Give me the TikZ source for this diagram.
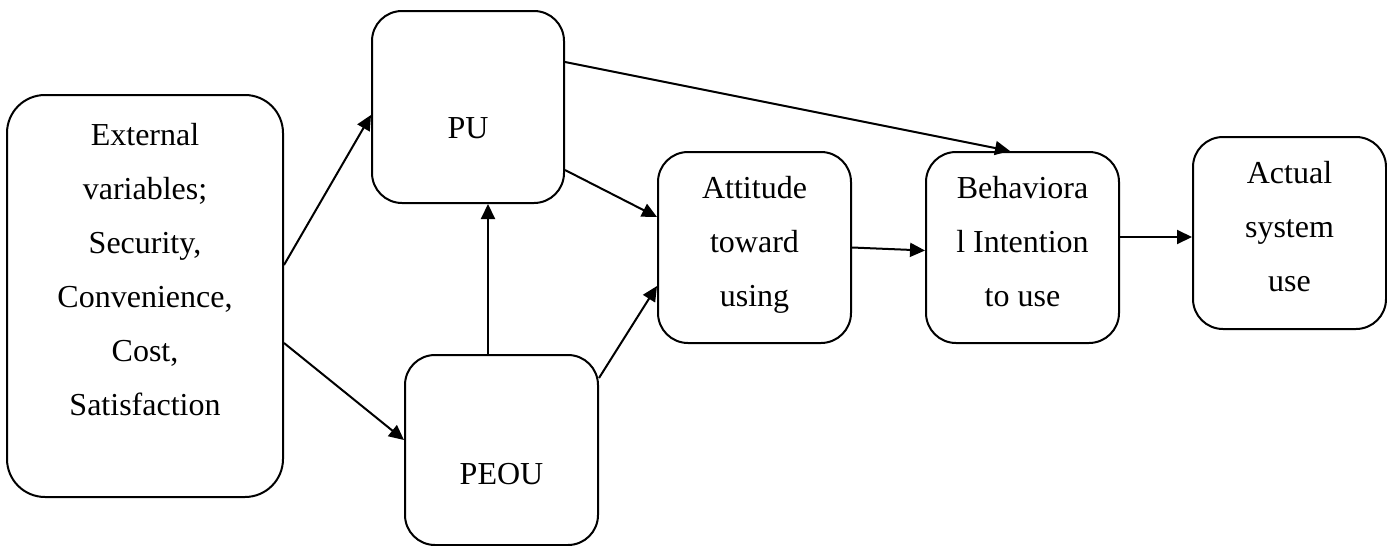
\documentclass[tikz,border=0pt]{standalone}
\usepackage{fontspec}
\setmainfont{Liberation Serif}
\usetikzlibrary{arrows.meta}

\begin{document}
\begin{tikzpicture}[
  x=1pt, y=-1pt,
  box/.style={draw, line width=2pt, rounded corners=30pt, inner sep=0pt, minimum width=193pt, minimum height=191pt},
  txt/.style={align=center, inner sep=0pt, font=\fontsize{32}{54}\selectfont},
  arrow/.style={-{Triangle[length=15pt,width=14pt]}, line width=2pt}
]
\useasboundingbox (0,0) rectangle (1387,546);
% boxes
\node[box, minimum width=276pt, minimum height=402pt, rounded corners=38pt] (ext) at (145,296) {};
\node[box, minimum width=192pt, minimum height=192pt] (pu) at (468,107) {};
\node[box, minimum height=190pt] (peou) at (501.5,450) {};
\node[box] (att) at (754.5,247.5) {};
\node[box] (beh) at (1022.5,247.5) {};
\node[box, minimum height=192pt] (act) at (1289.5,233) {};
% texts
\node[txt, yshift=26.5pt] (ext-t) at (ext.center) {External\\variables;\\Security,\\Convenience,\\Cost,\\Satisfaction};
\node[txt, yshift=-21.5pt] (pu-t) at (pu.center) {PU};
\node[txt, yshift=-24pt] (peou-t) at (peou.center) {PEOU};
\node[txt, yshift=2.5pt] (att-t) at (att.center) {Attitude\\toward\\using};
\node[txt, yshift=6pt] (beh-t) at (beh.center) {Behaviora\\l Intention\\to use};
\node[txt, yshift=6pt] (act-t) at (act.center) {Actual\\system\\use};
% connectors
\draw[arrow] ([yshift=31pt]ext.east) -- ([yshift=-8pt]pu.west);
\draw[arrow] ([yshift=-47pt]ext.east) -- ([yshift=10pt]peou.west);
\draw[arrow] ([xshift=-13.5pt]peou.north) -- ([xshift=-13.5pt]peou.north |- pu.south);
\draw[arrow] ([yshift=-63pt]pu.east) -- ([yshift=30.5pt]att.west);
\draw[arrow] ([yshift=72pt]peou.east) -- ([yshift=-38.5pt]att.west);
\draw[arrow] ([yshift=45pt]pu.east) -- ([xshift=-12.5pt]beh.north);
\draw[arrow] (att.east) -- ([yshift=-3pt]beh.west);
\draw[arrow] ([yshift=10.5pt]beh.east) -- ([yshift=10.5pt]beh.east -| act.west);
\end{tikzpicture}
\end{document}
